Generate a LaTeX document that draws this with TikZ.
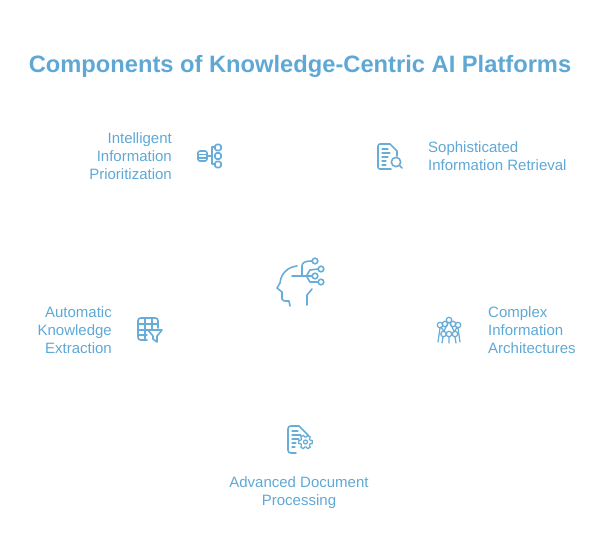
\documentclass[tikz,border=0pt]{standalone}
\usepackage{fontspec}
\setmainfont{Liberation Sans}
\usetikzlibrary{positioning}
\definecolor{titreC}{HTML}{5FA8D6}
\definecolor{iconC}{HTML}{68ACD8}
\tikzset{
  titlebox/.style={font=\fontsize{23.7}{28}\selectfont\bfseries, text=titreC, inner sep=0pt},
  labelL/.style={align=right, anchor=east, font=\fontsize{15}{18}\selectfont, text=titreC, inner sep=0pt},
  labelR/.style={align=left, anchor=west, font=\fontsize{15}{18}\selectfont, text=titreC, inner sep=0pt},
  labelC/.style={align=center, font=\fontsize{15}{18}\selectfont, text=titreC, inner sep=0pt},
  icon/.style={draw=iconC, line width=1.6pt, line cap=round, line join=round},
  thin icon/.style={draw=iconC, line width=1.25pt, line cap=round, line join=round},
}

\begin{document}
\begin{tikzpicture}[x=1pt,y=-1pt]
    \useasboundingbox (0,0) rectangle (606,558);
    \node[titlebox] (title) at (300,66) {Components of Knowledge-Centric AI Platforms};

    \node[labelL] (prio) at (172,156) {Intelligent\\Information\\Prioritization};
    \node[labelR] (retr) at (428,156) {Sophisticated\\Information Retrieval};
    \node[labelL] (extr) at (112,330) {Automatic\\Knowledge\\Extraction};
    \node[labelR] (arch) at (488,330) {Complex\\Information\\Architectures};
    \node[labelC] (proc) at (299,492.5) {Advanced Document\\Processing};

    % centre: head
    \draw[icon] (297,266) .. controls (288,267) and (281,273) .. (280,283) -- (277,288)
      -- (282,292) -- (282,299) .. controls (282,301) and (284,301) .. (289,301) -- (290,306);
    \draw[icon] (307,305) -- (307,295) -- (312,289);
    \draw[icon] (292,276) -- (312,276);
    \draw[icon] (302,276) -- (302,266) .. controls (302,263) and (304,261) .. (312,261);
    \draw[icon] (307,275) -- (310,270) -- (318,269);
    \draw[icon] (307,277) -- (310,282) -- (318,282);
    \foreach \cx/\cy in {315/261,321/269,315/276,321/282}
      \draw[icon] (\cx,\cy) circle (2.8);

    % prioritization
    \draw[icon, rounded corners=2pt] (198,151) rectangle (207,161);
    \draw[thin icon] (198,154.5) -- (207,154.5) (198,158) -- (207,158);
    \draw[icon] (207,156) -- (212,156);
    \draw[icon] (215,147) -- (212,147) -- (212,164) -- (215,164);
    \foreach \cy in {147.5,156,164.5}
      \draw[icon, rounded corners=1.5pt] (215,\cy-3) rectangle (221,\cy+3);

    % retrieval
    \draw[icon] (391,169) -- (380,169) .. controls (379,169) and (378,168) .. (378,167)
      -- (378,146) .. controls (378,145) and (379,144) .. (380,144) -- (390,144)
      -- (397,151) -- (397,156);
    \foreach \ly/\lx in {149/388,153/390,157/388,161/386,165/386}
      \draw[thin icon] (382,\ly) -- (\lx,\ly);
    \draw[icon] (396,162) circle (4.7);
    \draw[icon] (399.5,165.5) -- (402,168);

    % extraction
    \draw[icon] (147,340) -- (141,340) .. controls (139,340) and (138,339) .. (138,337)
      -- (138,321) .. controls (138,319) and (139,318) .. (141,318) -- (155,318)
      .. controls (157,318) and (158,319) .. (158,321) -- (158,328);
    \draw[thin icon] (138,324) -- (158,324) (138,330) -- (148,330) (138,335) -- (147,335)
      (145,318) -- (145,340) (152,318) -- (152,330);
    \draw[icon] (148,330) -- (162,330) -- (157,336) -- (157,342) -- (153,339) -- (153,336) -- cycle;

    % architectures
    \foreach \cx/\cy in {449/320,440/325,458/325,445/324,453/324,443.5/334,449/334,455/334}
      \draw[thin icon] (\cx,\cy) circle (2.7);
    \draw[thin icon] (440,328) -- (438,342) (443,337) -- (442,343) (449,337) -- (449,343)
      (455,337) -- (456,343) (458,328) -- (460,342) (441,327) -- (443.5,331)
      (457,327) -- (455,331) (448,323) -- (444,331) (450,323) -- (454,331);

    % processing
    \draw[icon] (296,453) -- (291,453) .. controls (289,453) and (288,452) .. (288,450)
      -- (288,429) .. controls (288,427) and (289,426) .. (291,426) -- (299,426)
      -- (308,435) -- (308,436);
    \foreach \ly/\lx in {431/298,435/301,439/299,443/296,447/295}
      \draw[thin icon] (292,\ly) -- (\lx,\ly);
    \foreach \ang in {0,60,...,300}
      \draw[thin icon, shift={(305.5,442)}] (\ang-12:7) -- (\ang+12:7) -- (\ang+22:5) -- (\ang+38:5) -- (\ang+48:7);
    \draw[thin icon] (305.5,442) circle (2);
  \end{tikzpicture}
\end{document}
